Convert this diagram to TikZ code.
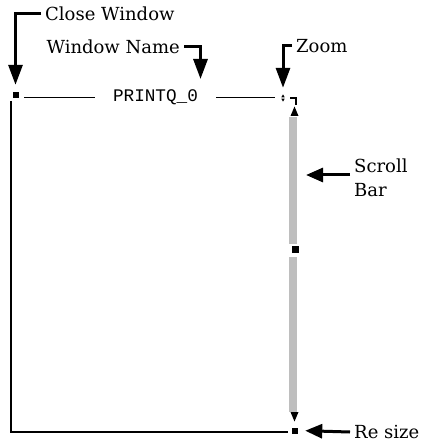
\documentclass[tikz,border=0pt]{standalone}
\usepackage{fontspec}
\usetikzlibrary{arrows.meta, positioning, calc}
\newfontfamily\lblfont{DejaVu Serif}
\newfontfamily\winfont{Liberation Mono}
\definecolor{inkline}{HTML}{000000}
\definecolor{barfill}{HTML}{BEBEBE}
\tikzset{
  lbl/.style={font=\lblfont\fontsize{18}{24}\selectfont, inner xsep=4pt,
              inner ysep=0pt, align=left},
  wintitle/.style={font=\winfont\fontsize{17.7}{20}\selectfont, inner xsep=18pt,
                   inner ysep=0pt},
  knob/.style={rectangle, fill=inkline, inner sep=0pt, minimum size=6pt},
  track/.style={rectangle, fill=barfill, inner sep=0pt, minimum width=8pt},
  callout/.style={-{Triangle[length=20pt, width=14pt]}, line width=3pt, draw=inkline},
  pointer/.style={-{Triangle[length=17pt, width=14pt]}, line width=3pt, draw=inkline},
  titlebar/.style={line width=1.8pt, draw=inkline},
  frame/.style={line width=2.8pt, draw=inkline},
}
\def\knobgap{5pt}
\def\tipgap{7pt}

\begin{document}
\begin{tikzpicture}[x=1pt, y=-1pt]
\useasboundingbox (0,0) rectangle (423,443);

% Title bar of the window
\node[knob] (closebox) at (15.5,95) {};
\node[wintitle] (title) at (155.5,97.5) {PRINTQ\_0};
\node[inner sep=0pt, minimum size=6pt] (zoomicon) at (283,98) {};
\fill[inkline] (281.3,97.3) -- (284.7,97.3) -- (283,94.4) -- cycle;
\fill[inkline] (281.3,98.7) -- (284.7,98.7) -- (283,101.6) -- cycle;
\draw[titlebar, shorten >=\knobgap] (title.west) -- (title.west -| closebox.east);
\draw[titlebar, shorten >=\knobgap] (title.east) -- (title.east -| zoomicon.west);
\draw[titlebar] (290,98) -| (296,105);

% Scroll bar with its arrows and thumb
\node[track, minimum height=127pt] (sbtop) at (293,180.5) {};
\node[track, minimum height=155pt] (sbbot) at (293,334.5) {};
\node[knob, minimum size=7pt] (sbthumb) at (295.5,249) {};
\fill[inkline] (290.5,116) -- (298.5,116) -- (294.5,106.5) -- cycle;
\fill[inkline] (290.5,412) -- (298.5,412) -- (294.5,421.5) -- cycle;
\node[knob] (resizebox) at (295,430.5) {};

% Window frame
\coordinate (frametop) at (11,101);
\coordinate (framecorner) at (288,432);
\draw[frame] (frametop) |- (framecorner);

% Labels
\node[lbl, anchor=west] (closelbl) at (41,14) {Close Window};
\node[lbl, anchor=east] (namelbl) at (184,47) {Window Name};
\node[lbl, anchor=west] (zoomlbl) at (292,46) {Zoom};
\node[lbl, anchor=west] (scrolllbl) at (350,178) {Scroll\\Bar};
\node[lbl, anchor=west] (resizelbl) at (350,432) {Re size};

% Call-outs
\coordinate (nametip) at (200.5,79);
\coordinate (scrolltip) at (306,175);
\draw[callout, shorten >=\tipgap] (closelbl.west) -| (closebox.north);
\draw[callout] (namelbl.east) -| (nametip);
\draw[callout, shorten >=\tipgap] (zoomlbl.west) -| (zoomicon.north);
\draw[pointer] ([yshift=3pt]scrolllbl.west) -- (scrolltip);
\draw[pointer, shorten >=7pt] (resizelbl.west) -- (resizebox.east);

\end{tikzpicture}
\end{document}
